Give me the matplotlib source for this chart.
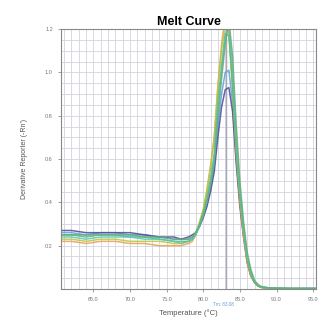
import numpy as np
import matplotlib.pyplot as plt
from matplotlib.ticker import MultipleLocator

plt.rcParams['font.family'] = ['Liberation Sans', 'DejaVu Sans']

temps = [60.5, 62, 64, 66, 68, 70, 72, 74, 76, 77, 78, 78.5, 79, 79.5, 80, 80.5,
         81, 81.5, 82, 82.5, 83, 83.5, 84, 84.5, 85, 85.5, 86, 86.5, 87, 87.5,
         88, 89, 90, 92, 94, 95.5]

curves = {
    '#5aa0dc': [0.26, 0.26, 0.25, 0.26, 0.26, 0.25, 0.25, 0.24, 0.23, 0.23, 0.23, 0.24, 0.26, 0.29, 0.33, 0.39,
                0.47, 0.57, 0.75, 0.90, 1.00, 1.01, 0.86, 0.60, 0.40, 0.25, 0.13, 0.06, 0.03, 0.014,
                0.007, 0.004, 0.003, 0.002, 0.002, 0.002],
    '#4a4a98': [0.27, 0.27, 0.26, 0.26, 0.26, 0.26, 0.25, 0.24, 0.24, 0.23, 0.24, 0.25, 0.26, 0.29, 0.33, 0.38,
                0.45, 0.54, 0.70, 0.84, 0.92, 0.93, 0.82, 0.58, 0.38, 0.24, 0.12, 0.06, 0.03, 0.013,
                0.007, 0.004, 0.003, 0.002, 0.002, 0.002],
    '#e8a04a': [0.22, 0.22, 0.21, 0.22, 0.22, 0.21, 0.21, 0.20, 0.20, 0.20, 0.21, 0.22, 0.25, 0.30, 0.36, 0.45,
                0.56, 0.70, 0.94, 1.13, 1.26, 1.20, 0.92, 0.62, 0.40, 0.24, 0.12, 0.06, 0.03, 0.012,
                0.006, 0.003, 0.002, 0.001, 0.001, 0.001],
    '#b8c44a': [0.23, 0.23, 0.22, 0.23, 0.23, 0.22, 0.22, 0.22, 0.21, 0.21, 0.22, 0.23, 0.26, 0.31, 0.37, 0.46,
                0.57, 0.70, 0.93, 1.10, 1.22, 1.18, 0.95, 0.66, 0.44, 0.27, 0.14, 0.07, 0.03, 0.015,
                0.008, 0.004, 0.003, 0.002, 0.002, 0.002],
    '#58b878': [0.25, 0.25, 0.24, 0.25, 0.25, 0.24, 0.24, 0.23, 0.22, 0.22, 0.22, 0.23, 0.26, 0.30, 0.35, 0.42,
                0.51, 0.62, 0.86, 1.03, 1.18, 1.17, 0.94, 0.65, 0.43, 0.27, 0.14, 0.07, 0.03, 0.015,
                0.008, 0.004, 0.003, 0.002, 0.002, 0.002],
    '#55c8b0': [0.24, 0.24, 0.23, 0.24, 0.24, 0.24, 0.23, 0.23, 0.22, 0.21, 0.22, 0.23, 0.25, 0.29, 0.34, 0.41,
                0.50, 0.61, 0.83, 1.00, 1.16, 1.22, 1.02, 0.70, 0.46, 0.29, 0.15, 0.08, 0.035, 0.017,
                0.009, 0.005, 0.003, 0.002, 0.002, 0.002],
    '#68ac7c': [0.25, 0.25, 0.25, 0.25, 0.25, 0.25, 0.24, 0.24, 0.23, 0.23, 0.23, 0.24, 0.26, 0.29, 0.34, 0.40,
                0.48, 0.58, 0.79, 0.97, 1.13, 1.24, 1.08, 0.76, 0.50, 0.31, 0.17, 0.09, 0.04, 0.02,
                0.01, 0.005, 0.003, 0.002, 0.002, 0.002],
}

tm_value = 83.08
x_ticks = [65.0, 70.0, 75.0, 80.0, 85.0, 90.0, 95.0]
y_ticks = [0.2, 0.4, 0.6, 0.8, 1.0, 1.2]

fig = plt.figure(figsize=(3.18, 3.2), dpi=100)
ax = fig.add_axes([0.192, 0.097, 0.802, 0.812])

for color, vals in curves.items():
    ax.plot(temps, vals, color=color, lw=1.1, alpha=0.85, solid_joinstyle='round')

ax.axvline(tm_value, color='#a8a8bc', lw=1.0, zorder=1)

ax.set_xlim(60.6, 95.4)
ax.set_ylim(0, 1.2)
ax.set_xticks(x_ticks)
ax.set_xticklabels([f'{t:.1f}' for t in x_ticks])
ax.set_yticks(y_ticks)
ax.set_yticklabels([f'{t:.1f}' for t in y_ticks])
ax.xaxis.set_minor_locator(MultipleLocator(1))
ax.yaxis.set_minor_locator(MultipleLocator(0.05))
ax.grid(which='both', color='#d4d2de', lw=0.6, zorder=0)
ax.set_axisbelow(True)
ax.tick_params(which='major', labelsize=4, length=2, width=0.5, colors='#777777', pad=4)
ax.tick_params(which='minor', length=0)
for s in ax.spines.values():
    s.set_color('#888888')
    s.set_linewidth(0.8)

ax.text(tm_value - 0.3, -0.062, f'Tm: {tm_value:.2f}', color='#6a9ad6', fontsize=3.3,
        ha='center', va='top')

ax.set_title('Melt Curve', fontsize=9, fontweight='bold', pad=3)
ax.set_xlabel('Temperature (°C)', fontsize=5.5, color='#555555', labelpad=5)
ax.set_ylabel("Derivative Reporter (-Rn')", fontsize=5, color='#555555', labelpad=12)

fig.savefig('out.png', dpi=100)
